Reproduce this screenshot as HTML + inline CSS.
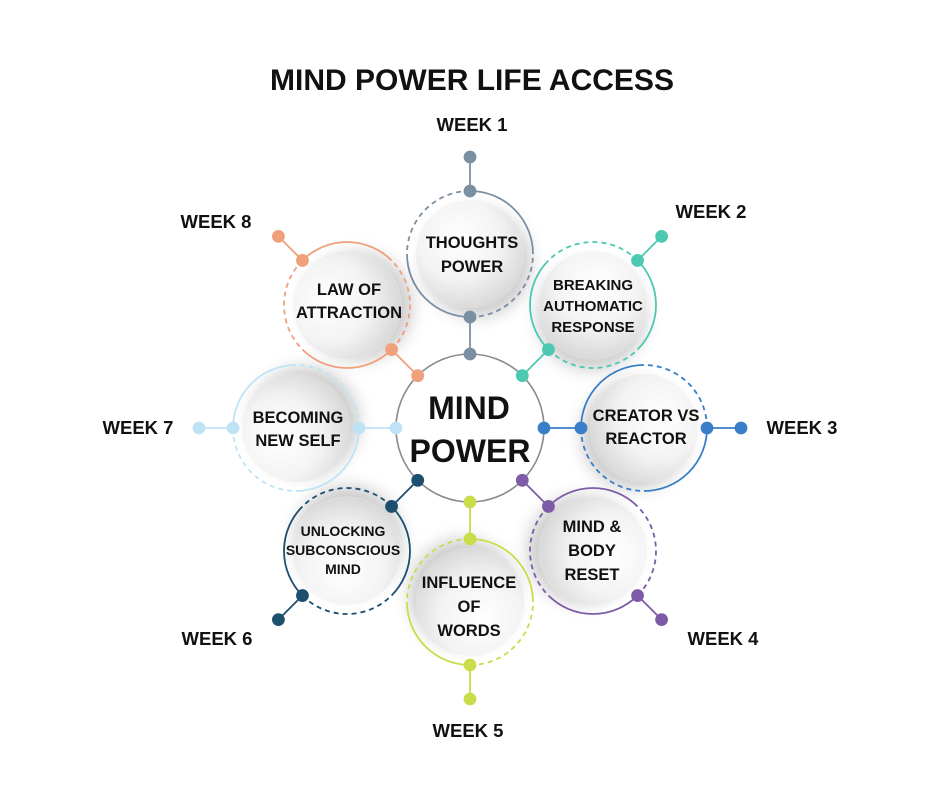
<!DOCTYPE html>
<html><head><meta charset="utf-8"><style>
html,body{margin:0;padding:0;background:#fff;}
svg{display:block;}
text{font-family:"Liberation Sans",sans-serif;font-weight:bold;fill:#111;text-anchor:middle;}
</style></head><body>
<svg width="940" height="788" viewBox="0 0 940 788" xmlns="http://www.w3.org/2000/svg">
<defs>
<radialGradient id="g" cx="0.4" cy="0.35" r="0.7">
<stop offset="0" stop-color="#ffffff"/><stop offset="0.55" stop-color="#f3f3f3"/><stop offset="1" stop-color="#d6d6d6"/>
</radialGradient>
<filter id="sh" x="-50%" y="-50%" width="200%" height="200%">
<feDropShadow dx="7" dy="9" stdDeviation="8" flood-color="#000" flood-opacity="0.2"/>
</filter>
<g id="ring">
<path d="M0,-63 A63,63 0 0 0 -63,0" fill="none" stroke-dasharray="5 4"/>
<path d="M0,63 A63,63 0 0 0 63,0" fill="none" stroke-dasharray="5 4"/>
<path d="M-63,0 A63,63 0 0 0 0,63" fill="none"/>
<path d="M63,0 A63,63 0 0 0 0,-63" fill="none"/>
<line x1="0" y1="-63" x2="0" y2="-97"/>
<line x1="0" y1="63" x2="0" y2="100"/>
</g>
</defs>
<text x="472" y="90" font-size="30">MIND POWER LIFE ACCESS</text>

<circle cx="470" cy="428" r="74" fill="#fff" stroke="#8a8a8a" stroke-width="1.6"/>

<g stroke-width="1.8">
<g transform="translate(470,254) rotate(0)" stroke="#7b8fa3"><circle r="54" fill="url(#g)" filter="url(#sh)" stroke="none"/><use href="#ring"/><circle cy="-63" r="5.5" fill="#7b8fa3"/><circle cy="-97" r="5.5" fill="#7b8fa3"/><circle cy="63" r="5.5" fill="#7b8fa3"/><circle cy="100" r="5.5" fill="#7b8fa3"/></g>
<g transform="translate(593,305) rotate(45)" stroke="#4cc9b0"><circle r="54" fill="url(#g)" filter="url(#sh)" stroke="none"/><use href="#ring"/><circle cy="-63" r="5.5" fill="#4cc9b0"/><circle cy="-97" r="5.5" fill="#4cc9b0"/><circle cy="63" r="5.5" fill="#4cc9b0"/><circle cy="100" r="5.5" fill="#4cc9b0"/></g>
<g transform="translate(644,428) rotate(90)" stroke="#3a7ec8"><circle r="54" fill="url(#g)" filter="url(#sh)" stroke="none"/><use href="#ring"/><circle cy="-63" r="5.5" fill="#3a7ec8"/><circle cy="-97" r="5.5" fill="#3a7ec8"/><circle cy="63" r="5.5" fill="#3a7ec8"/><circle cy="100" r="5.5" fill="#3a7ec8"/></g>
<g transform="translate(593,551) rotate(135)" stroke="#7d5ba6"><circle r="54" fill="url(#g)" filter="url(#sh)" stroke="none"/><use href="#ring"/><circle cy="-63" r="5.5" fill="#7d5ba6"/><circle cy="-97" r="5.5" fill="#7d5ba6"/><circle cy="63" r="5.5" fill="#7d5ba6"/><circle cy="100" r="5.5" fill="#7d5ba6"/></g>
<g transform="translate(470,602) rotate(180)" stroke="#cbdc4a"><circle r="54" fill="url(#g)" filter="url(#sh)" stroke="none"/><use href="#ring"/><circle cy="-63" r="5.5" fill="#cbdc4a"/><circle cy="-97" r="5.5" fill="#cbdc4a"/><circle cy="63" r="5.5" fill="#cbdc4a"/><circle cy="100" r="5.5" fill="#cbdc4a"/></g>
<g transform="translate(347,551) rotate(225)" stroke="#1d4f6e"><circle r="54" fill="url(#g)" filter="url(#sh)" stroke="none"/><use href="#ring"/><circle cy="-63" r="5.5" fill="#1d4f6e"/><circle cy="-97" r="5.5" fill="#1d4f6e"/><circle cy="63" r="5.5" fill="#1d4f6e"/><circle cy="100" r="5.5" fill="#1d4f6e"/></g>
<g transform="translate(296,428) rotate(270)" stroke="#bfe3f5"><circle r="54" fill="url(#g)" filter="url(#sh)" stroke="none"/><use href="#ring"/><circle cy="-63" r="5.5" fill="#bfe3f5"/><circle cy="-97" r="5.5" fill="#bfe3f5"/><circle cy="63" r="5.5" fill="#bfe3f5"/><circle cy="100" r="5.5" fill="#bfe3f5"/></g>
<g transform="translate(347,305) rotate(315)" stroke="#f0a07a"><circle r="54" fill="url(#g)" filter="url(#sh)" stroke="none"/><use href="#ring"/><circle cy="-63" r="5.5" fill="#f0a07a"/><circle cy="-97" r="5.5" fill="#f0a07a"/><circle cy="63" r="5.5" fill="#f0a07a"/><circle cy="100" r="5.5" fill="#f0a07a"/></g>
</g>

<text x="469" y="419" font-size="32">MIND</text>
<text x="470" y="462" font-size="32">POWER</text>

<g font-size="16.5">
<text x="472" y="248">THOUGHTS</text><text x="472" y="272">POWER</text>
<text x="593" y="290" font-size="15">BREAKING</text><text x="593" y="311" font-size="15">AUTHOMATIC</text><text x="593" y="332" font-size="15">RESPONSE</text>
<text x="646" y="421">CREATOR VS</text><text x="646" y="444">REACTOR</text>
<text x="592" y="532">MIND &amp;</text><text x="592" y="556">BODY</text><text x="592" y="580">RESET</text>
<text x="469" y="588">INFLUENCE</text><text x="469" y="612">OF</text><text x="469" y="636">WORDS</text>
<text x="343" y="536" font-size="14">UNLOCKING</text><text x="343" y="555" font-size="14">SUBCONSCIOUS</text><text x="343" y="574" font-size="14">MIND</text>
<text x="298" y="423">BECOMING</text><text x="298" y="446">NEW SELF</text>
<text x="349" y="295">LAW OF</text><text x="349" y="318">ATTRACTION</text>
</g>

<g font-size="18.5">
<text x="472" y="131">WEEK 1</text>
<text x="711" y="218">WEEK 2</text>
<text x="802" y="434">WEEK 3</text>
<text x="723" y="645">WEEK 4</text>
<text x="468" y="737">WEEK 5</text>
<text x="217" y="645">WEEK 6</text>
<text x="138" y="434">WEEK 7</text>
<text x="216" y="228">WEEK 8</text>
</g>
</svg>
</body></html>
